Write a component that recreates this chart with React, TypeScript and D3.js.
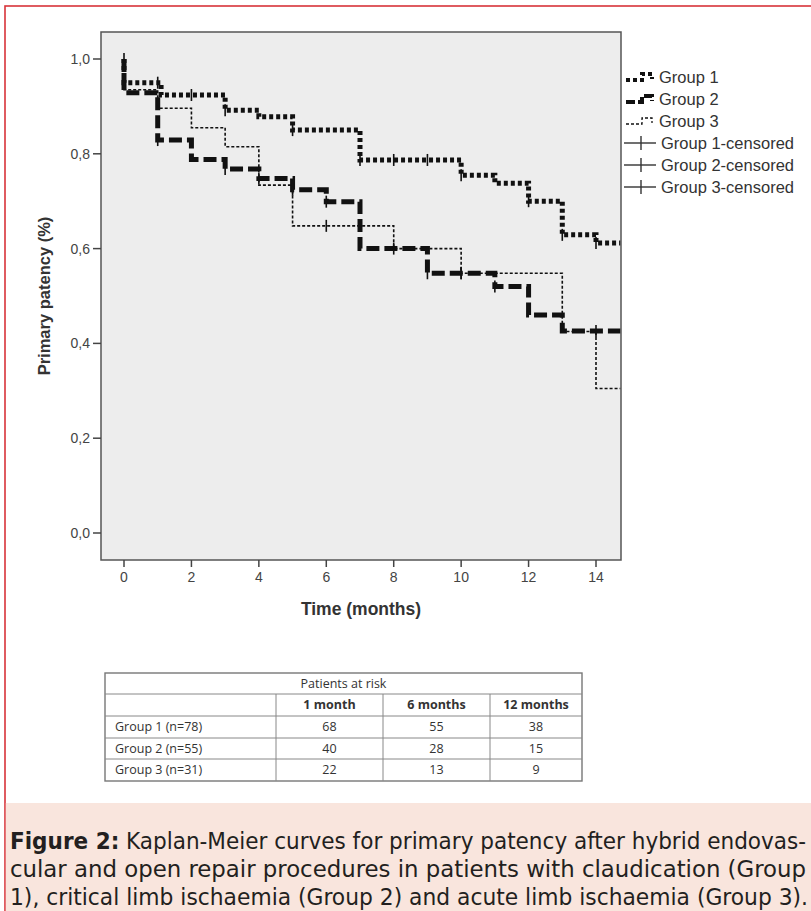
import React from 'react';
import * as d3 from 'd3';

// ---- data ----
const monthTicks = [0, 2, 4, 6, 8, 10, 12, 14];
const patencyTicks = [0, 0.2, 0.4, 0.6, 0.8, 1.0];

const g1Times = [0, 1.1, 3, 4, 5, 7, 10, 11, 12, 13, 14];
const g1Surv = [0.95, 0.924, 0.892, 0.878, 0.85, 0.787, 0.755, 0.738, 0.7, 0.629, 0.612];
const g2Times = [0, 1, 2, 3, 4, 5, 6, 7, 9, 11, 12, 13];
const g2Surv = [0.929, 0.829, 0.788, 0.768, 0.748, 0.724, 0.699, 0.6, 0.548, 0.52, 0.46, 0.426];
const g3Times = [0, 1, 2, 3, 4, 5, 8, 10, 13, 14];
const g3Surv = [0.935, 0.896, 0.855, 0.815, 0.734, 0.648, 0.6, 0.548, 0.425, 0.305];
const followEnd = 14.72;

const g1CensorT = [0, 1, 2, 3, 5, 7, 8, 9, 10, 12, 13, 14];
const g1CensorS = [1.0, 0.95, 0.924, 0.892, 0.85, 0.787, 0.787, 0.787, 0.755, 0.7, 0.629, 0.612];
const g2CensorT = [1, 3, 4, 5, 6, 8, 9, 10, 11, 14];
const g2CensorS = [0.829, 0.768, 0.748, 0.724, 0.699, 0.6, 0.548, 0.548, 0.52, 0.426];
const g3CensorT = [6, 10];
const g3CensorS = [0.648, 0.548];

const legendLabels = ['Group 1', 'Group 2', 'Group 3', 'Group 1-censored', 'Group 2-censored', 'Group 3-censored'];

const tableTitle = 'Patients at risk';
const tableCols = ['1 month', '6 months', '12 months'];
const tableRows = ['Group 1 (n=78)', 'Group 2 (n=55)', 'Group 3 (n=31)'];
const atRisk1 = [68, 40, 22];
const atRisk6 = [55, 28, 13];
const atRisk12 = [38, 15, 9];

const captionLines = [
  ['Figure 2:', ' Kaplan-Meier curves for primary patency after hybrid endovas-'],
  ['', 'cular and open repair procedures in patients with claudication (Group'],
  ['', '1), critical limb ischaemia (Group 2) and acute limb ischaemia (Group 3).'],
];

// ---- layout ----
const frame = { x0: 101, x1: 621, y0: 32, y1: 560 };
const x = d3.scaleLinear().domain([0, 14]).range([124, 596]);
const y = d3.scaleLinear().domain([0, 1]).range([533, 59]);

const stepLine = d3
  .line<[number, number]>()
  .x((d) => x(d[0]))
  .y((d) => y(d[1]))
  .curve(d3.curveStepAfter);

function stepPoints(times: number[], surv: number[]): [number, number][] {
  const pts: [number, number][] = [[0, 1]];
  times.forEach((t, i) => pts.push([t, surv[i]]));
  pts.push([followEnd, surv[surv.length - 1]]);
  return pts;
}

const styles = [
  { w: 5, dash: '4 3' },
  { w: 5, dash: '13 5' },
  { w: 1.6, dash: '3 2' },
];

const axisFont = '"Liberation Sans", Arial, sans-serif';

export default function App() {
  const series = [
    stepPoints(g1Times, g1Surv),
    stepPoints(g2Times, g2Surv),
    stepPoints(g3Times, g3Surv),
  ];
  const censors = [
    g1CensorT.map((t, i) => [t, g1CensorS[i]]),
    g2CensorT.map((t, i) => [t, g2CensorS[i]]),
    g3CensorT.map((t, i) => [t, g3CensorS[i]]),
  ];
  const fmt = (v: number) => d3.format('.1f')(v).replace('.', ',');

  // table geometry
  const tx = [105, 276, 383, 490, 582];
  const ty = [673, 694, 716, 738, 759, 781];
  const riskCols = [atRisk1, atRisk6, atRisk12];

  return (
    <svg
      width={811}
      height={911}
      style={{ position: 'absolute', left: 0, top: 0, background: '#fff' }}
    >
      {/* red outer border */}
      <rect x={5} y={6} width={820} height={920} fill="none" stroke="#d8343a" strokeWidth={1.6} />
      {/* caption background */}
      <rect x={5.8} y={803} width={806} height={109} fill="#f9e5dd" />

      {/* plot frame */}
      <rect
        x={frame.x0}
        y={frame.y0}
        width={frame.x1 - frame.x0}
        height={frame.y1 - frame.y0}
        fill="#ededed"
        stroke="#555"
        strokeWidth={1.5}
      />

      {/* y axis */}
      {patencyTicks.map((v) => (
        <g key={v}>
          <line x1={frame.x0 - 8} x2={frame.x0} y1={y(v)} y2={y(v)} stroke="#444" strokeWidth={1.5} />
          <text
            x={frame.x0 - 11}
            y={y(v)}
            dy="0.35em"
            textAnchor="end"
            fontFamily={axisFont}
            fontSize={14}
            fill="#444"
          >
            {fmt(v)}
          </text>
        </g>
      ))}
      <text
        transform={`translate(50,${(y(0) + y(1)) / 2}) rotate(-90)`}
        textAnchor="middle"
        fontFamily={axisFont}
        fontWeight="bold"
        fontSize={16.5}
        fill="#333"
      >
        Primary patency (%)
      </text>

      {/* x axis */}
      {monthTicks.map((t) => (
        <g key={t}>
          <line x1={x(t)} x2={x(t)} y1={frame.y1} y2={frame.y1 + 7} stroke="#444" strokeWidth={1.5} />
          <text
            x={x(t)}
            y={frame.y1 + 22}
            textAnchor="middle"
            fontFamily={axisFont}
            fontSize={14}
            fill="#444"
          >
            {t}
          </text>
        </g>
      ))}
      <text
        x={361}
        y={615}
        textAnchor="middle"
        fontFamily={axisFont}
        fontWeight="bold"
        fontSize={17.5}
        fill="#333"
      >
        Time (months)
      </text>

      {/* curves */}
      {series
        .map((pts, i) => (
          <path
            key={i}
            d={stepLine(pts) || ''}
            fill="none"
            stroke="#111"
            strokeWidth={styles[i].w}
            strokeDasharray={styles[i].dash}
          />
        ))
        .reverse()}

      {/* censor marks */}
      {censors.map((arr, gi) =>
        arr.map(([t, s], j) => (
          <line
            key={`${gi}-${j}`}
            x1={x(t)}
            x2={x(t)}
            y1={y(s) - 6}
            y2={y(s) + 6}
            stroke="#111"
            strokeWidth={1.6}
          />
        ))
      )}

      {/* legend */}
      {legendLabels.map((lab, i) => {
        const ly = 77 + i * 22;
        let icon;
        if (i < 3) {
          icon = (
            <path
              d={`M626,${ly + 3} H642 V${ly - 3} H652 V${ly + 2}`}
              fill="none"
              stroke="#111"
              strokeWidth={styles[i].w * 0.8}
              strokeDasharray={i === 1 ? '9 3' : styles[i].dash}
            />
          );
        } else {
          icon = (
            <g>
              <line x1={624} x2={656} y1={ly} y2={ly} stroke="#333" strokeWidth={1.4} />
              <line x1={641} x2={641} y1={ly - 7} y2={ly + 7} stroke="#333" strokeWidth={1.4} />
            </g>
          );
        }
        return (
          <g key={lab}>
            {icon}
            <text
              x={i < 3 ? 659 : 661}
              y={ly}
              dy="0.35em"
              fontFamily={axisFont}
              fontSize={16.5}
              fill="#333"
            >
              {lab}
            </text>
          </g>
        );
      })}

      {/* patients at risk table */}
      <g fontFamily='"Open Sans", "Noto Sans", sans-serif' fontSize={12.5} fill="#333">
        <rect x={tx[0]} y={ty[0]} width={tx[4] - tx[0]} height={ty[5] - ty[0]} fill="#fff" stroke="#777" strokeWidth={1.4} />
        {ty.slice(1, 5).map((yy) => (
          <line key={yy} x1={tx[0]} x2={tx[4]} y1={yy} y2={yy} stroke="#888" strokeWidth={1} />
        ))}
        {tx.slice(1, 4).map((xx) => (
          <line key={xx} x1={xx} x2={xx} y1={ty[1]} y2={ty[5]} stroke="#888" strokeWidth={1} />
        ))}
        <text x={(tx[0] + tx[4]) / 2} y={(ty[0] + ty[1]) / 2} dy="0.35em" textAnchor="middle">
          {tableTitle}
        </text>
        {tableCols.map((c, i) => (
          <text
            key={c}
            x={(tx[i + 1] + tx[i + 2]) / 2}
            y={(ty[1] + ty[2]) / 2}
            dy="0.35em"
            textAnchor="middle"
            fontWeight="bold"
          >
            {c}
          </text>
        ))}
        {tableRows.map((r, ri) => (
          <g key={r}>
            <text x={tx[0] + 10} y={(ty[ri + 2] + ty[ri + 3]) / 2} dy="0.35em">
              {r}
            </text>
            {riskCols.map((col, ci) => (
              <text
                key={ci}
                x={(tx[ci + 1] + tx[ci + 2]) / 2}
                y={(ty[ri + 2] + ty[ri + 3]) / 2}
                dy="0.35em"
                textAnchor="middle"
              >
                {col[ri]}
              </text>
            ))}
          </g>
        ))}
      </g>

      {/* caption */}
      {captionLines.map(([bold, rest], i) => (
        <text
          key={i}
          x={10}
          y={849 + i * 28}
          fontFamily='"Liberation Sans Narrow", "DejaVu Sans Condensed", "Open Sans", sans-serif'
          fontSize={23}
          fill="#231f20"
          textLength={i === 2 ? 798 : 796}
          lengthAdjust="spacingAndGlyphs"
        >
          {bold ? <tspan fontWeight="bold">{bold}</tspan> : null}
          {rest}
        </text>
      ))}
    </svg>
  );
}
